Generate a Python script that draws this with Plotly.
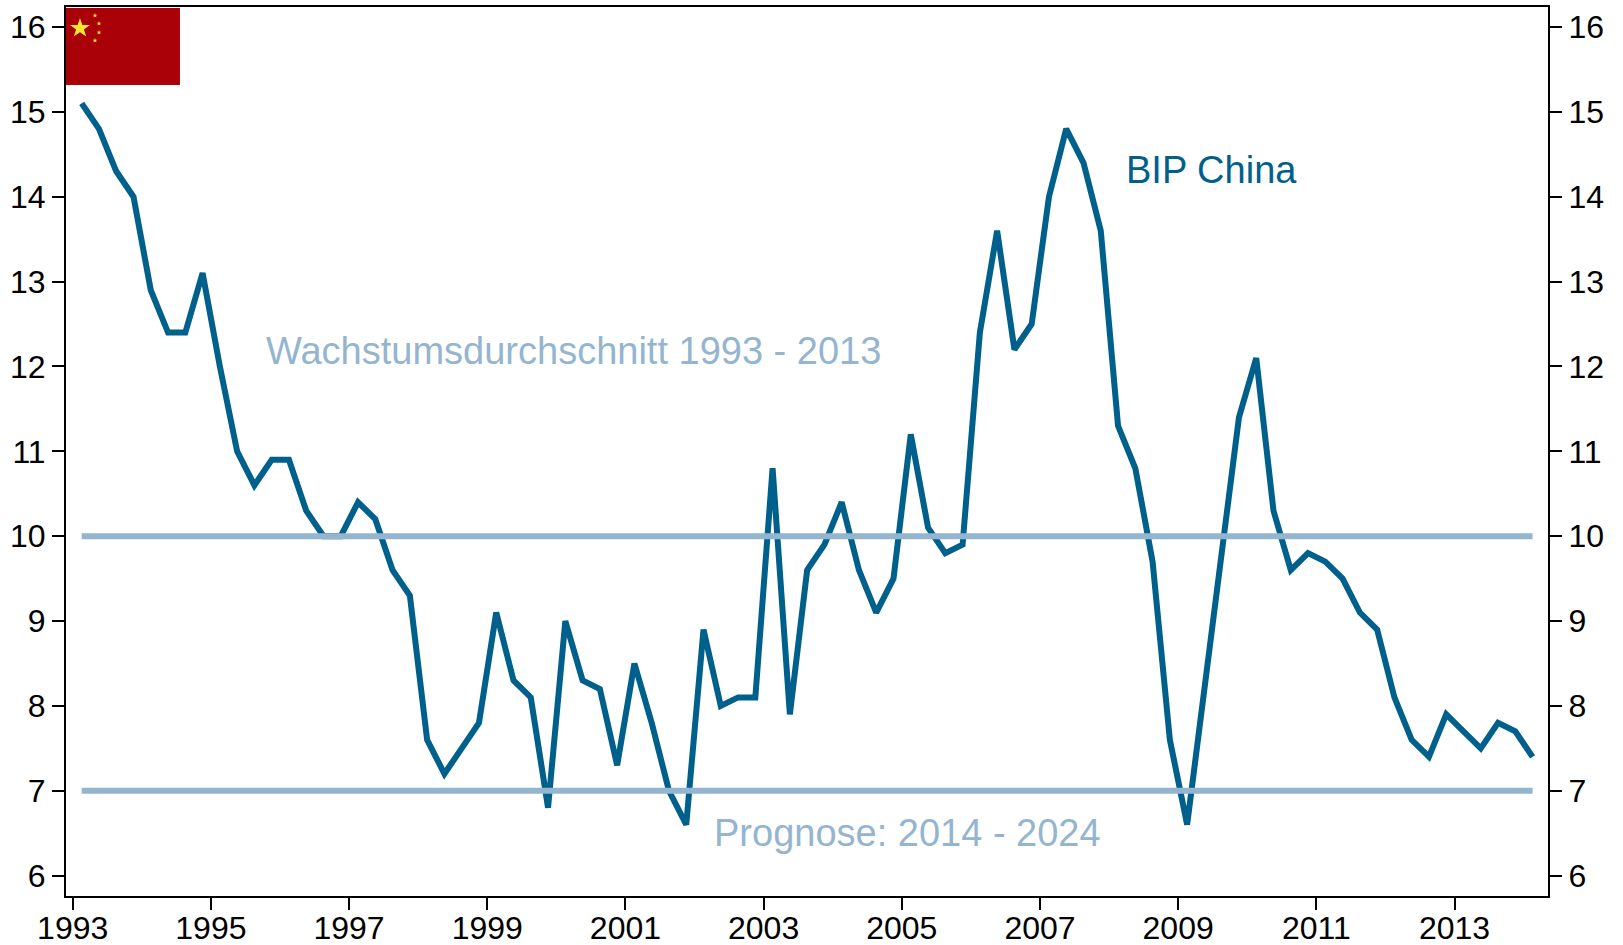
import base64
import plotly.graph_objects as go

start_year = 1993.13
step = 0.25
gdp = [15.1,14.8,14.3,14.0,12.9,12.4,12.4,13.1,12.0,11.0,10.6,10.9,10.9,10.3,10.0,10.0,
       10.4,10.2,9.6,9.3,7.6,7.2,7.5,7.8,9.1,8.3,8.1,6.8,9.0,8.3,8.2,7.3,8.5,7.8,7.0,6.6,
       8.9,8.0,8.1,8.1,10.8,7.9,9.6,9.9,10.4,9.6,9.1,9.5,11.2,10.1,9.8,9.9,12.4,13.6,12.2,12.5,
       14.0,14.8,14.4,13.6,11.3,10.8,9.7,7.6,6.6,8.2,9.7,11.4,12.1,10.3,9.6,9.8,9.7,9.5,9.1,8.9,
       8.1,7.6,7.4,7.9,7.7,7.5,7.8,7.7,7.4]
quarters = [start_year + i * step for i in range(len(gdp))]
avg_past = [10, 10]
avg_forecast = [7, 7]
line_x = [quarters[0], quarters[-1]]
y_ticks = list(range(6, 17))
x_ticks = list(range(1993, 2014, 2))

DARK = "#00608C"
LIGHT = "#94B5CF"
FONT = "Liberation Sans"

flag_svg = """<svg xmlns="http://www.w3.org/2000/svg" width="114" height="77" viewBox="0 0 114 77">
<rect width="114" height="77" fill="#AA0008"/>
<g fill="#F5E52B">
<polygon points="14,10 16.4,17 24,17 17.9,21.4 20.2,28.5 14,24.2 7.8,28.5 10.1,21.4 4,17 11.6,17"/>
<polygon points="29,5 29.6,6.7 31.4,6.7 30,7.8 30.5,9.5 29,8.5 27.5,9.5 28,7.8 26.6,6.7 28.4,6.7"/>
<polygon points="33,13 33.6,14.7 35.4,14.7 34,15.8 34.5,17.5 33,16.5 31.5,17.5 32,15.8 30.6,14.7 32.4,14.7"/>
<polygon points="33,22 33.6,23.7 35.4,23.7 34,24.8 34.5,26.5 33,25.5 31.5,26.5 32,24.8 30.6,23.7 32.4,23.7"/>
<polygon points="29,30 29.6,31.7 31.4,31.7 30,32.8 30.5,34.5 29,33.5 27.5,34.5 28,32.8 26.6,31.7 28.4,31.7"/>
</g></svg>"""
flag_uri = "data:image/svg+xml;base64," + base64.b64encode(flag_svg.encode()).decode()

fig = go.Figure()
fig.add_trace(go.Scatter(x=line_x, y=avg_past, mode="lines", line=dict(color=LIGHT, width=6), yaxis="y2", showlegend=False))
fig.add_trace(go.Scatter(x=line_x, y=avg_forecast, mode="lines", line=dict(color=LIGHT, width=6), yaxis="y2", showlegend=False))
fig.add_trace(go.Scatter(x=quarters, y=gdp, mode="lines", line=dict(color=DARK, width=6), showlegend=False))

def label(text, x, y, color):
    fig.add_annotation(x=x, y=y, text=text, showarrow=False, xanchor="left", yanchor="middle",
                       font=dict(family=FONT, size=38, color=color))

label("BIP China", 2008.21, 14.31, DARK)
label("Wachstumsdurchschnitt 1993 - 2013", 1995.77, 12.18, LIGHT)
label("Prognose: 2014 - 2024", 2002.25, 6.5, LIGHT)

yax = dict(range=[5.76, 16.236], tickvals=y_ticks, ticks="outside", ticklen=12, tickwidth=2,
           tickcolor="black", linecolor="black", linewidth=2, showline=True, showgrid=False,
           zeroline=False, automargin=False, tickfont=dict(family=FONT, size=32, color="black"))
fig.update_layout(
    width=1623, height=945, autosize=False,
    margin=dict(l=66, r=74.5, t=7, b=49),
    plot_bgcolor="white", paper_bgcolor="white",
    xaxis=dict(range=[1992.903, 2014.353], tickvals=x_ticks, tickformat="d", ticks="outside", ticklen=12,
               tickwidth=2, tickcolor="black", linecolor="black", linewidth=2, showline=True,
               mirror=True, showgrid=False, zeroline=False, automargin=False, ticklabelstandoff=-9,
               tickfont=dict(family=FONT, size=32, color="black")),
    yaxis=dict(side="left", **yax),
    yaxis2=dict(overlaying="y", side="right", **yax),
    images=[dict(source=flag_uri, xref="paper", yref="paper", x=0, y=0.9989, sizex=114/1482.5, sizey=77/889,
                 xanchor="left", yanchor="top", sizing="stretch", layer="above")],
)
fig.write_html("out.html", post_script="document.body.style.margin='0';document.body.style.overflow='hidden';",
               config=dict(displayModeBar=False))
